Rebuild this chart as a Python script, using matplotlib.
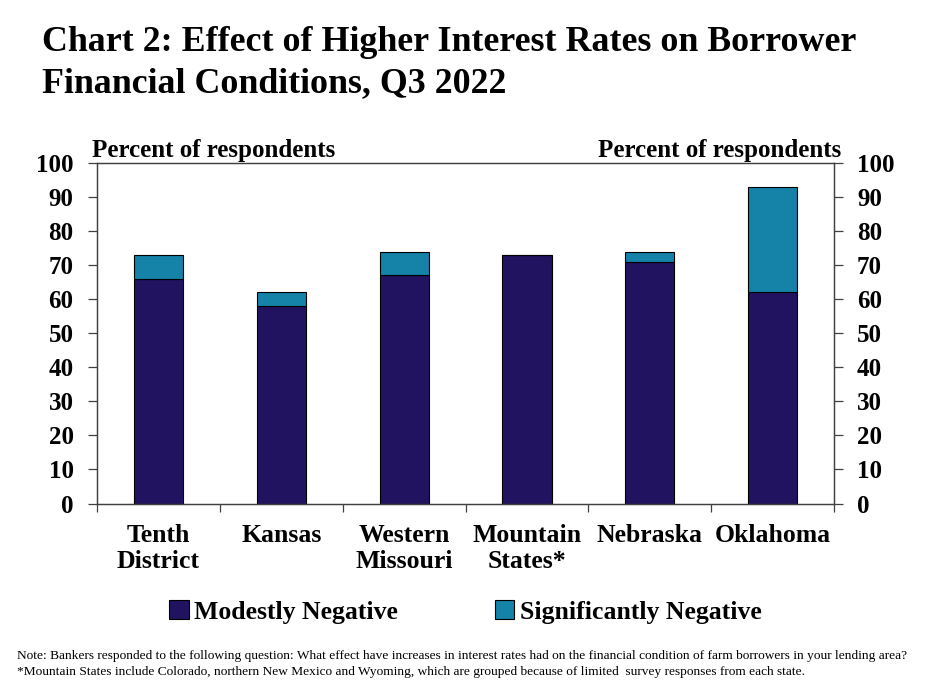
import matplotlib
matplotlib.use("Agg")
import matplotlib.pyplot as plt
import numpy as np

# data
categories = ["Tenth\nDistrict", "Kansas", "Western\nMissouri", "Mountain\nStates*", "Nebraska", "Oklahoma"]
modestly_negative = [66, 58, 67, 73, 71, 62]
significantly_negative = [7, 4, 7, 0, 3, 31]
y_ticks = list(range(0, 101, 10))

DARK = "#21135F"
TEAL = "#1582A8"

plt.rcParams["font.family"] = ["Liberation Serif", "DejaVu Serif"]
plt.rcParams["font.weight"] = "bold"

fig = plt.figure(figsize=(9.25, 6.93), dpi=100)
ax = fig.add_axes([0.105, 0.2734, 0.7968, 0.4913])

x = np.arange(len(categories))
ax.bar(x, modestly_negative, width=0.4, color=DARK, edgecolor="black", linewidth=0.8,
       label="Modestly Negative")
ax.bar(x, significantly_negative, width=0.4, bottom=modestly_negative, color=TEAL,
       edgecolor="black", linewidth=0.8, label="Significantly Negative")

ax.set_xlim(-0.5, len(categories) - 0.5)
ax.set_ylim(0, 100)
ax.set_yticks(y_ticks)
ax.set_yticklabels([str(t) for t in y_ticks], fontsize=18, fontweight="bold")
ax.tick_params(axis="y", direction="out", length=6.5, width=0.9, pad=10.5,
               color="#404040", labelcolor="black")

# right axis duplicates the scale
ax2 = ax.twinx()
ax2.set_ylim(0, 100)
ax2.set_yticks(y_ticks)
ax2.set_yticklabels([str(t) for t in y_ticks], fontsize=18, fontweight="bold")
ax2.tick_params(axis="y", direction="out", length=6.5, width=0.9, pad=10,
                color="#404040", labelcolor="black")

# category ticks sit between the bars
ax.set_xticks(np.arange(-0.5, len(categories), 1.0))
ax.set_xticklabels([])
ax.tick_params(axis="x", direction="out", length=6, width=0.9, color="#404040")
ax.set_xticks(x, minor=True)
ax.set_xticklabels(categories, minor=True, fontsize=18.5, fontweight="bold", linespacing=1.12)
ax.tick_params(axis="x", which="minor", length=0, pad=15)

for a in (ax, ax2):
    for s in a.spines.values():
        s.set_color("#404040")
        s.set_linewidth(0.9)

fig.text(0.045, 0.962, "Chart 2: Effect of Higher Interest Rates on Borrower\nFinancial Conditions, Q3 2022",
         fontsize=25.8, fontweight="bold", va="top", ha="left", linespacing=1.32)

fig.text(0.099, 0.766, "Percent of respondents", fontsize=18, fontweight="bold", ha="left", va="bottom")
fig.text(0.909, 0.766, "Percent of respondents", fontsize=18, fontweight="bold", ha="right", va="bottom")

fig.legend(loc="center", bbox_to_anchor=(0.503, 0.117), ncol=2, frameon=False,
           prop={"size": 18.5, "weight": "bold"}, handlelength=0.75, handleheight=0.75,
           handletextpad=0.2, columnspacing=3.8)

fig.text(0.018, 0.054, "Note: Bankers responded to the following question: What effect have increases in interest rates "
         "had on the financial condition of farm borrowers in your lending area?",
         fontsize=9.6, fontweight="normal", ha="left", va="center")
fig.text(0.018, 0.031, "*Mountain States include Colorado, northern New Mexico and Wyoming, which are grouped "
         "because of limited  survey responses from each state.",
         fontsize=9.6, fontweight="normal", ha="left", va="center")

fig.savefig("out.png", dpi=100)
